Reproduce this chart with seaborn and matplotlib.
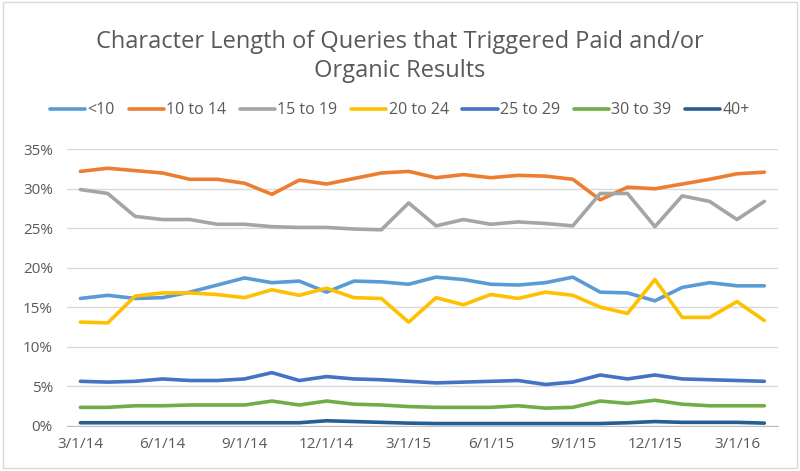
import pandas as pd
import matplotlib.pyplot as plt
import seaborn as sns
from matplotlib.patches import Rectangle
from matplotlib.ticker import PercentFormatter

# monthly points, 3/1/14 .. 4/1/16
months = pd.date_range("2014-03-01", "2016-04-01", freq="MS")
tick_labels = [f"{d.month}/{d.day}/{d.strftime('%y')}" for d in months]

series_names = ["<10", "10 to 14", "15 to 19", "20 to 24", "25 to 29", "30 to 39", "40+"]
colors = ["#5B9BD5", "#ED7D31", "#A5A5A5", "#FFC000", "#4472C4", "#70AD47", "#255E91"]

lt10 = [16.1, 16.5, 16.1, 16.2, 16.9, 17.8, 18.7, 18.1, 18.3, 16.9, 18.3, 18.2, 17.9,
        18.8, 18.5, 17.9, 17.8, 18.1, 18.8, 16.9, 16.8, 15.8, 17.5, 18.1, 17.7, 17.7]
r10_14 = [32.2, 32.6, 32.3, 32.0, 31.2, 31.2, 30.7, 29.3, 31.1, 30.6, 31.3, 32.0, 32.2,
          31.4, 31.8, 31.4, 31.7, 31.6, 31.2, 28.6, 30.2, 30.0, 30.6, 31.2, 31.9, 32.1]
r15_19 = [29.9, 29.4, 26.5, 26.1, 26.1, 25.5, 25.5, 25.2, 25.1, 25.1, 24.9, 24.8, 28.2,
          25.3, 26.1, 25.5, 25.8, 25.6, 25.3, 29.4, 29.4, 25.2, 29.1, 28.4, 26.1, 28.4]
r20_24 = [13.1, 13.0, 16.4, 16.8, 16.8, 16.6, 16.2, 17.2, 16.5, 17.4, 16.2, 16.1, 13.1,
          16.2, 15.3, 16.6, 16.1, 16.9, 16.5, 15.0, 14.2, 18.5, 13.7, 13.7, 15.7, 13.3]
r25_29 = [5.6, 5.5, 5.6, 5.9, 5.7, 5.7, 5.9, 6.7, 5.7, 6.2, 5.9, 5.8, 5.6,
          5.4, 5.5, 5.6, 5.7, 5.2, 5.5, 6.4, 5.9, 6.4, 5.9, 5.8, 5.7, 5.6]
r30_39 = [2.3, 2.3, 2.5, 2.5, 2.6, 2.6, 2.6, 3.1, 2.6, 3.1, 2.7, 2.6, 2.4,
          2.3, 2.3, 2.3, 2.5, 2.2, 2.3, 3.1, 2.8, 3.2, 2.7, 2.5, 2.5, 2.5]
r40p = [0.35, 0.35, 0.35, 0.35, 0.35, 0.35, 0.35, 0.35, 0.35, 0.6, 0.5, 0.4, 0.3,
        0.25, 0.25, 0.25, 0.25, 0.25, 0.25, 0.25, 0.35, 0.5, 0.4, 0.4, 0.4, 0.3]

all_values = [lt10, r10_14, r15_19, r20_24, r25_29, r30_39, r40p]

rows = []
for name, vals in zip(series_names, all_values):
    for i, v in enumerate(vals):
        rows.append({"idx": i, "share": v / 100, "group": name})
df = pd.DataFrame(rows)

sns.set_style("white")
plt.rcParams["font.family"] = ["Open Sans", "DejaVu Sans"]
text_gray = "#595959"

fig = plt.figure(figsize=(8, 4.71), dpi=100)
ax = fig.add_axes([0.0834, 0.0966, 0.8891, 0.5864])

sns.lineplot(data=df, x="idx", y="share", hue="group", hue_order=series_names,
             palette=colors, linewidth=2.6, ax=ax, legend=False)

ax.set_xlim(-0.5, len(months) - 0.5)
ax.set_ylim(0, 0.35)
ax.set_yticks([0, 0.05, 0.10, 0.15, 0.20, 0.25, 0.30, 0.35])
ax.yaxis.set_major_formatter(PercentFormatter(1.0, decimals=0))
ax.set_xticks(range(0, len(months), 3))
ax.set_xticklabels(tick_labels[::3])
ax.set_xticks([k - 0.5 for k in range(0, len(months), 3)], minor=True)
ax.tick_params(axis="x", which="major", length=0, pad=8, labelsize=11, labelcolor=text_gray)
ax.tick_params(axis="x", which="minor", length=5, color="#BFBFBF", width=1)
ax.tick_params(axis="y", length=0, pad=10, labelsize=11, labelcolor=text_gray)
ax.grid(axis="y", color="#D9D9D9", linewidth=1)
ax.set_axisbelow(True)
for s in ["top", "right", "left"]:
    ax.spines[s].set_visible(False)
ax.spines["bottom"].set_color("#BFBFBF")
ax.set_xlabel("")
ax.set_ylabel("")

handles = [plt.Line2D([], [], color=c, linewidth=2.6) for c in colors]
fig.legend(handles, series_names, loc="center", bbox_to_anchor=(0.5, 0.766), ncol=7,
           frameon=False, fontsize=11.5, labelcolor=text_gray, handlelength=2.2,
           handletextpad=0.15, columnspacing=0.85)

fig.text(0.5, 0.88, "Character Length of Queries that Triggered Paid and/or\nOrganic Results",
         ha="center", va="center", fontsize=17, color=text_gray, linespacing=1.3)

fig.patches.append(Rectangle((0.004, 0.006), 0.992, 0.99, transform=fig.transFigure,
                             fill=False, edgecolor="#D9D9D9", linewidth=1))

fig.savefig("out.png", dpi=100)
